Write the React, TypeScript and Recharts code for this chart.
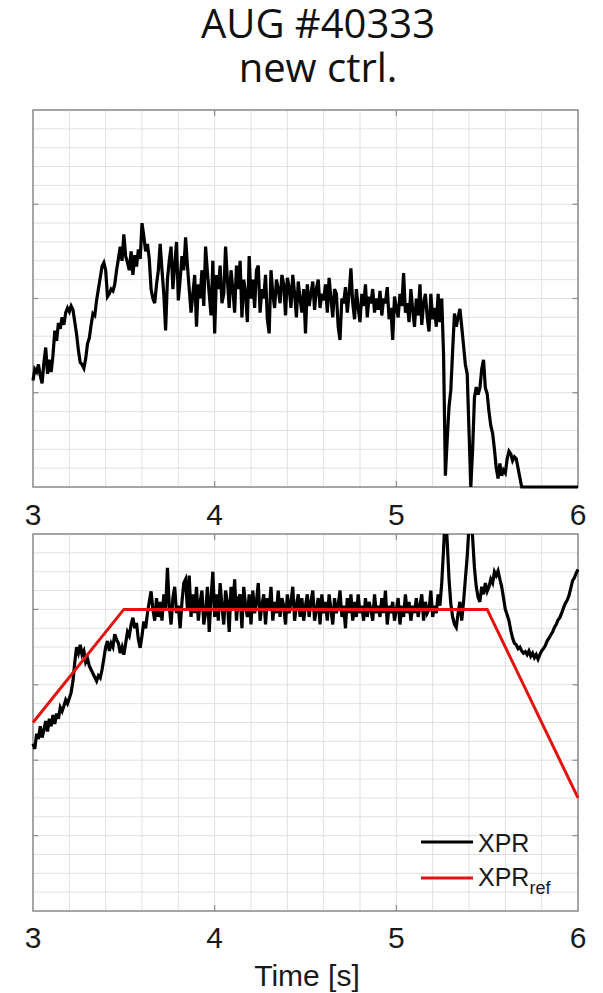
import { LineChart, Line, XAxis, YAxis, CartesianGrid, ReferenceArea, ReferenceLine } from 'recharts'

// sampled every 10 ms from 3.00 s to 6.00 s
const T_START = 3
const T_STEP = 0.01

// upper panel trace
const TOP_XPR = [
  1.13, 1.25, 1.22, 1.30, 1.18, 1.10, 1.32, 1.48, 1.20, 1.35,
  1.22, 1.40, 1.66, 1.55, 1.74, 1.68, 1.80, 1.72, 1.85, 1.90,
  1.86, 1.92, 1.88, 1.75, 1.62, 1.45, 1.32, 1.30, 1.26, 1.36,
  1.52, 1.58, 1.72, 1.84, 1.82, 1.98, 2.10, 2.22, 2.34, 2.38,
  2.30, 2.02, 2.05, 2.10, 2.08, 2.15, 2.30, 2.42, 2.55, 2.40,
  2.68, 2.45, 2.38, 2.30, 2.50, 2.25, 2.46, 2.34, 2.52, 2.42,
  2.80, 2.66, 2.50, 2.58, 2.42, 2.10, 2.00, 1.95, 2.15, 2.30,
  2.58, 2.30, 2.05, 1.66, 2.20, 2.40, 2.55, 2.10, 2.35, 2.60,
  1.98, 2.20, 2.45, 2.30, 2.65, 2.35, 2.10, 1.85, 2.05, 2.25,
  1.70, 2.15, 2.00, 2.30, 1.92, 2.55, 2.28, 2.05, 1.82, 2.40,
  1.63, 2.25, 2.10, 2.35, 1.95, 2.05, 2.55, 2.20, 1.90, 2.30,
  2.10, 1.85, 2.35, 2.10, 2.40, 1.80, 2.20, 2.05, 1.75, 2.45,
  2.00, 2.20, 1.90, 2.30, 2.35, 1.85, 2.10, 2.00, 2.25, 1.78,
  1.63, 2.30, 2.05, 1.90, 2.20, 2.10, 1.95, 2.25, 2.15, 1.82,
  2.22, 2.12, 1.90, 2.25, 2.05, 1.80, 2.18, 2.00, 1.85, 2.10,
  1.63, 2.15, 1.92, 2.05, 2.18, 1.88, 2.10, 2.20, 1.90, 2.05,
  1.98, 2.15, 1.85, 2.22, 2.00, 1.80, 2.10, 2.05, 1.70, 1.56,
  2.00, 1.95, 2.12, 1.85, 2.05, 2.32, 1.95, 1.78, 2.10, 1.90,
  1.75, 2.05, 1.92, 2.15, 1.80, 2.02, 1.95, 2.10, 1.85, 2.00,
  1.88, 2.08, 1.82, 2.00, 1.95, 2.12, 1.78, 1.90, 1.56, 2.02,
  1.90, 1.80, 2.05, 1.92, 2.27, 1.85, 1.95, 1.75, 2.10, 1.88,
  1.70, 2.00, 1.82, 2.15, 1.72, 1.95, 2.05, 1.80, 1.65, 2.05,
  1.78, 1.90, 1.70, 2.05, 1.75, 2.00, 1.40, 0.12, 0.50, 0.85,
  1.03, 1.45, 1.84, 1.70, 1.80, 1.89, 1.70, 1.50, 1.30, 1.20,
  0.60, 0.00, 0.40, 0.95, 1.06, 0.98, 1.05, 1.25, 1.35, 1.05,
  0.99, 0.80, 0.65, 0.57, 0.40, 0.20, 0.09, 0.25, 0.12, 0.18,
  0.15, 0.30, 0.38, 0.35, 0.28, 0.32, 0.30, 0.20, 0.10, 0.00,
  0, 0, 0, 0, 0, 0, 0, 0, 0, 0,
  0, 0, 0, 0, 0, 0, 0, 0, 0, 0,
  0, 0, 0, 0, 0, 0, 0, 0, 0, 0,
  0,
]

// lower panel: measured XPR
const BOT_XPR = [
  2.22, 2.15, 2.35, 2.28, 2.45, 2.30, 2.40, 2.52, 2.38, 2.55,
  2.45, 2.60, 2.48, 2.62, 2.55, 2.70, 2.65, 2.72, 2.80, 2.75,
  2.82, 2.90, 3.05, 3.30, 3.50, 3.42, 3.53, 3.40, 3.45, 3.30,
  3.35, 3.25, 3.20, 3.15, 3.10, 3.05, 3.12, 3.09, 3.20, 3.35,
  3.50, 3.58, 3.45, 3.55, 3.50, 3.67, 3.60, 3.55, 3.42, 3.50,
  3.40, 3.55, 3.70, 3.65, 3.80, 3.89, 3.75, 3.82, 3.60, 3.49,
  3.65, 3.84, 3.75, 3.95, 4.10, 4.24, 4.00, 3.85, 4.15, 3.90,
  4.10, 3.85, 4.20, 4.00, 4.55, 4.05, 3.80, 4.15, 4.30, 3.95,
  4.05, 3.75, 4.10, 4.35, 4.40, 4.00, 4.45, 3.90, 4.20, 3.95,
  4.30, 3.85, 4.10, 4.25, 3.80, 3.95, 4.30, 3.70, 4.15, 4.50,
  3.90, 4.20, 3.85, 4.35, 4.05, 3.80, 4.25, 4.10, 3.70, 4.30,
  4.00, 4.40, 3.85, 4.15, 4.20, 3.75, 4.30, 4.05, 3.90, 4.20,
  3.80, 4.25, 3.95, 4.10, 4.35, 3.85, 4.05, 4.20, 3.80, 4.15,
  4.00, 4.30, 3.85, 4.10, 3.95, 4.25, 3.90, 4.15, 4.05, 3.80,
  4.20, 3.95, 4.10, 4.30, 3.85, 4.05, 4.20, 3.90, 4.15, 3.85,
  4.05, 4.20, 3.90, 4.10, 4.25, 3.85, 4.00, 4.15, 3.80, 4.20,
  3.95, 4.10, 3.85, 4.20, 4.00, 3.80, 4.15, 3.95, 4.05, 4.25,
  3.90, 4.05, 3.75, 4.15, 3.95, 4.20, 3.85, 4.10, 3.90, 4.20,
  3.95, 4.05, 3.85, 4.15, 3.90, 4.10, 4.00, 3.85, 4.20, 3.95,
  4.05, 3.90, 4.15, 3.95, 4.25, 3.80, 4.05, 3.95, 4.10, 3.85,
  4.00, 4.15, 3.80, 4.05, 3.90, 4.20, 3.95, 4.10, 3.85, 4.05,
  3.95, 4.15, 3.90, 4.05, 4.20, 3.85, 4.10, 3.95, 4.00, 4.25,
  3.90, 4.05, 3.95, 4.20, 4.05, 4.35, 4.80, 5.30, 4.90, 4.40,
  4.07, 3.90, 3.80, 3.76, 3.95, 4.10, 3.85, 4.10, 4.40, 4.70,
  5.10, 5.30, 4.95, 4.55, 4.30, 4.16, 4.10, 4.30, 4.20, 4.35,
  4.24, 4.30, 4.40, 4.35, 4.50, 4.45, 4.51, 4.40, 4.30, 4.15,
  4.00, 3.93, 3.85, 3.72, 3.62, 3.55, 3.53, 3.48, 3.50, 3.45,
  3.42, 3.44, 3.40, 3.45, 3.38, 3.42, 3.36, 3.40, 3.34, 3.40,
  3.45, 3.48, 3.52, 3.58, 3.62, 3.66, 3.70, 3.76, 3.80, 3.86,
  3.89, 3.95, 4.02, 4.08, 4.12, 4.18, 4.28, 4.38, 4.42, 4.48,
  4.53,
]

// reference trajectory
const REF_T = [3, 3.5, 5.5, 6]
const REF_V = [2.5, 4, 4, 1.5]

const GRID_T = [3, 3.2, 3.4, 3.6, 3.8, 4, 4.2, 4.4, 4.6, 4.8, 5, 5.2, 5.4, 5.6, 5.8, 6]
const MAJOR_T = [4, 5]
const GRID_TOP_Y = [0, 0.2, 0.4, 0.6, 0.8, 1, 1.2, 1.4, 1.6, 1.8, 2, 2.2, 2.4, 2.6, 2.8, 3, 3.2, 3.4, 3.6, 3.8, 4]
const MAJOR_TOP_Y = [1, 2, 3]
const GRID_BOT_Y = [0, 0.25, 0.5, 0.75, 1, 1.25, 1.5, 1.75, 2, 2.25, 2.5, 2.75, 3, 3.25, 3.5, 3.75, 4, 4.25, 4.5, 4.75, 5]
const MAJOR_BOT_Y = [1, 2, 3, 4]

const topData = TOP_XPR.map((v, i) => ({ t: T_START + i * T_STEP, v }))
const botData = BOT_XPR.map((v, i) => ({ t: T_START + i * T_STEP, v }))
const refData = REF_T.map((t, i) => ({ t, v: REF_V[i] }))

const FRAME = '#8c8c8c'
const GRID = '#e0e0e0'
const TICK_FONT = { fontSize: 30, fill: '#1a1a1a', fontFamily: 'Liberation Sans, Arial, sans-serif' }
const fmt = (v: number) => (Math.abs(v - Math.round(v)) < 1e-6 ? String(Math.round(v)) : '')

function frameMarks(yMax: number, majorsY: number[]) {
  const dy = yMax * 0.016
  const dx = 0.03
  return [
    ...MAJOR_T.map((t) => (
      <ReferenceLine key={'b' + t} segment={[{ x: t, y: 0 }, { x: t, y: dy }]} stroke={FRAME} strokeWidth={1.2} />
    )),
    ...MAJOR_T.map((t) => (
      <ReferenceLine key={'t' + t} segment={[{ x: t, y: yMax }, { x: t, y: yMax - dy }]} stroke={FRAME} strokeWidth={1.2} />
    )),
    ...majorsY.map((y) => (
      <ReferenceLine key={'l' + y} segment={[{ x: 3, y }, { x: 3 + dx, y }]} stroke={FRAME} strokeWidth={1.2} />
    )),
    ...majorsY.map((y) => (
      <ReferenceLine key={'r' + y} segment={[{ x: 6, y }, { x: 6 - dx, y }]} stroke={FRAME} strokeWidth={1.2} />
    )),
  ]
}

export default function App() {
  return (
    <div style={{ position: 'absolute', left: 0, top: 0, width: 603, height: 993, background: '#fff' }}>
      <div style={{ position: 'absolute', left: 0, top: 0 }}>
        <LineChart width={603} height={530} margin={{ top: 110, right: 25, left: 33, bottom: 0 }}>
          <CartesianGrid stroke={GRID} strokeWidth={1} />
          <XAxis
            type="number"
            dataKey="t"
            domain={[3, 6]}
            ticks={GRID_T}
            interval={0}
            tickFormatter={fmt}
            tick={TICK_FONT}
            tickLine={false}
            axisLine={false}
            tickSize={0}
            tickMargin={17}
            height={43}
          />
          <YAxis
            type="number"
            domain={[0, 4]}
            ticks={GRID_TOP_Y}
            interval={0}
            width={0}
            tick={{ fontSize: 1, fill: 'none' }}
            tickFormatter={() => ''}
            tickLine={false}
            axisLine={false}
          />
          <ReferenceArea x1={3} x2={6} y1={0} y2={4} fill="none" stroke={FRAME} strokeWidth={1.5} />
          {frameMarks(4, MAJOR_TOP_Y)}
          <Line data={topData} dataKey="v" stroke="#000" strokeWidth={3.2} dot={false} isAnimationActive={false} />
        </LineChart>
      </div>

      <div style={{ position: 'absolute', left: 0, top: 500 }}>
        <LineChart width={603} height={493} margin={{ top: 34, right: 25, left: 33, bottom: 0 }}>
          <CartesianGrid stroke={GRID} strokeWidth={1} />
          <XAxis
            type="number"
            dataKey="t"
            domain={[3, 6]}
            ticks={GRID_T}
            interval={0}
            tickFormatter={fmt}
            tick={TICK_FONT}
            tickLine={false}
            axisLine={false}
            tickSize={0}
            tickMargin={16}
            height={82}
          />
          <YAxis
            type="number"
            domain={[0, 5]}
            ticks={GRID_BOT_Y}
            interval={0}
            allowDataOverflow
            width={0}
            tick={{ fontSize: 1, fill: 'none' }}
            tickFormatter={() => ''}
            tickLine={false}
            axisLine={false}
          />
          <ReferenceArea x1={3} x2={6} y1={0} y2={5} fill="none" stroke={FRAME} strokeWidth={1.5} />
          {frameMarks(5, MAJOR_BOT_Y)}
          <Line data={botData} dataKey="v" name="XPR" stroke="#000" strokeWidth={3.2} dot={false} isAnimationActive={false} />
          <Line data={refData} dataKey="v" name="XPRref" stroke="#e3130f" strokeWidth={3} dot={false} isAnimationActive={false} />
        </LineChart>
      </div>

      <svg width={603} height={993} style={{ position: 'absolute', left: 0, top: 0, pointerEvents: 'none' }}>
        <g fontFamily="Open Sans, Noto Sans, sans-serif" fontSize={40} fill="#111" textAnchor="middle">
          <text x={318} y={38}>AUG #40333</text>
          <text x={318} y={82}>new ctrl.</text>
        </g>
        <g fontFamily="Liberation Sans, Arial, sans-serif" fill="#1a1a1a">
          <line x1={421} x2={473} y1={842} y2={842} stroke="#000" strokeWidth={3} />
          <text x={478} y={852} fontSize={25}>XPR</text>
          <line x1={421} x2={473} y1={878} y2={878} stroke="#e3130f" strokeWidth={3} />
          <text x={478} y={886} fontSize={25}>
            XPR<tspan fontSize={18} dy={8}>ref</tspan>
          </text>
          <text x={307} y={986} fontSize={30} textAnchor="middle">Time [s]</text>
        </g>
      </svg>
    </div>
  )
}
